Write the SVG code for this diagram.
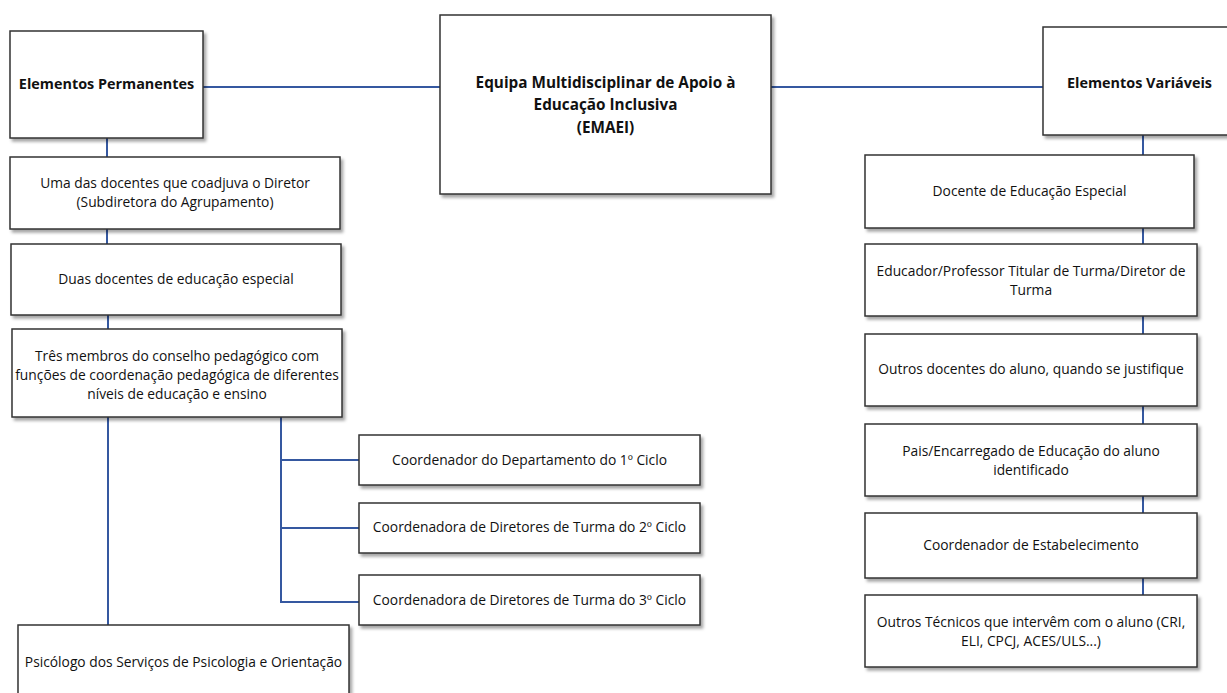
<svg xmlns="http://www.w3.org/2000/svg" width="1227" height="693" viewBox="0 0 1227 693">
<style>
.box{fill:#fff;stroke:#333;stroke-width:1.5;filter:url(#sh)}
.t{font-family:"Open Sans",Lato,sans-serif;font-size:13.8px;fill:#111;text-anchor:middle}
.b{font-family:"Open Sans",Lato,sans-serif;font-size:14.4px;font-weight:bold;fill:#111;text-anchor:middle}
.c{font-family:"Open Sans",Lato,sans-serif;font-size:15.3px;font-weight:bold;fill:#111;text-anchor:middle}
.ln{stroke:#3558a0;stroke-width:2;fill:none}
</style>
<defs>
<filter id="sh" x="-10%" y="-10%" width="130%" height="130%">
<feDropShadow dx="2.5" dy="3" stdDeviation="1.5" flood-color="#000" flood-opacity="0.35"/>
</filter>
</defs>
<rect width="1227" height="693" fill="#fff"/>
<g id="connectors">
<path class="ln" d="M203 87H440M771 87H1043"/>
<path class="ln" d="M107 138V157M107 229V244M108 315V329M108 417V625"/>
<path class="ln" d="M281 417V603M281 460H359M281 528H359M281 602H359"/>
<path class="ln" d="M1143 135V155M1143 228V244M1143 316V334M1143 406V424M1143 496V513M1143 578V595"/>
</g>
<g id="n-emaei"><rect class="box" x="440" y="15" width="331" height="179"/>
<text class="c" x="605.5" y="88">Equipa Multidisciplinar de Apoio à</text>
<text class="c" x="605.5" y="110">Educação Inclusiva</text>
<text class="c" x="605.5" y="133">(EMAEI)</text></g>
<g id="n-perm"><rect class="box" x="10" y="31" width="193" height="107"/>
<text class="b" x="106.5" y="89">Elementos Permanentes</text></g>
<g id="n-var"><rect class="box" x="1043" y="27" width="195" height="108"/>
<text class="b" x="1139.5" y="88">Elementos Variáveis</text></g>
<g id="n-uma"><rect class="box" x="10" y="157" width="330" height="72"/>
<text class="t" x="175" y="188">Uma das docentes que coadjuva o Diretor</text>
<text class="t" x="175" y="207">(Subdiretora do Agrupamento)</text></g>
<g id="n-duas"><rect class="box" x="11" y="244" width="330" height="71"/>
<text class="t" x="176" y="284">Duas docentes de educação especial</text></g>
<g id="n-tres"><rect class="box" x="12" y="329" width="330" height="88"/>
<text class="t" x="177" y="361">Três membros do conselho pedagógico com</text>
<text class="t" x="177" y="380">funções de coordenação pedagógica de diferentes</text>
<text class="t" x="177" y="399">níveis de educação e ensino</text></g>
<g id="n-coord1"><rect class="box" x="359" y="435" width="341" height="50"/>
<text class="t" x="529.5" y="465">Coordenador do Departamento do 1º Ciclo</text></g>
<g id="n-coord2"><rect class="box" x="359" y="503" width="341" height="50"/>
<text class="t" x="529.5" y="532">Coordenadora de Diretores de Turma do 2º Ciclo</text></g>
<g id="n-coord3"><rect class="box" x="359" y="575" width="341" height="50"/>
<text class="t" x="529.5" y="605">Coordenadora de Diretores de Turma do 3º Ciclo</text></g>
<g id="n-psi"><rect class="box" x="18" y="625" width="331" height="78"/>
<text class="t" x="183.5" y="667">Psicólogo dos Serviços de Psicologia e Orientação</text></g>
<g id="n-docente"><rect class="box" x="865" y="155" width="329" height="73"/>
<text class="t" x="1029.5" y="196">Docente de Educação Especial</text></g>
<g id="n-educador"><rect class="box" x="865" y="244" width="332" height="72"/>
<text class="t" x="1031" y="276">Educador/Professor Titular de Turma/Diretor de</text>
<text class="t" x="1031" y="295">Turma</text></g>
<g id="n-outros"><rect class="box" x="865" y="334" width="332" height="72"/>
<text class="t" x="1031" y="374">Outros docentes do aluno, quando se justifique</text></g>
<g id="n-pais"><rect class="box" x="865" y="424" width="332" height="72"/>
<text class="t" x="1031" y="456">Pais/Encarregado de Educação do aluno</text>
<text class="t" x="1031" y="475">identificado</text></g>
<g id="n-estab"><rect class="box" x="865" y="513" width="332" height="65"/>
<text class="t" x="1031" y="550">Coordenador de Estabelecimento</text></g>
<g id="n-tecnicos"><rect class="box" x="865" y="595" width="332" height="72"/>
<text class="t" x="1031" y="627">Outros Técnicos que intervêm com o aluno (CRI,</text>
<text class="t" x="1031" y="646">ELI, CPCJ, ACES/ULS...)</text></g>
</svg>
